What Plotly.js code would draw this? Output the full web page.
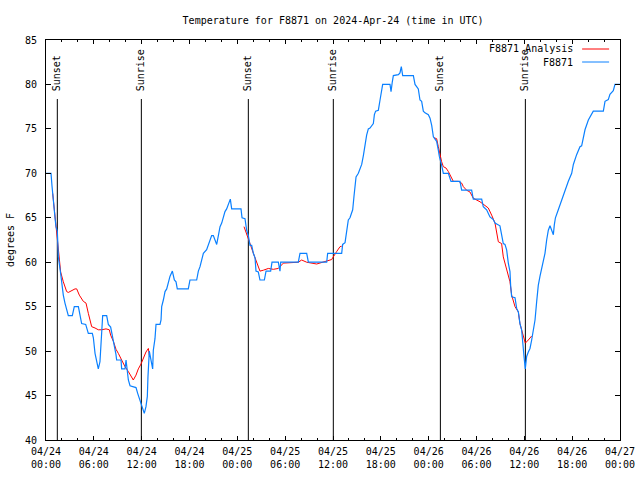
<!DOCTYPE html>
<html>
<head>
<meta charset="utf-8">
<script src="https://cdn.plot.ly/plotly-3.0.1.min.js"></script>
<style>html,body{margin:0;padding:0;background:#fff;}#chart{width:640px;height:480px;}</style>
</head>
<body>
<div id="chart"></div>
<script>
// Hours since 2024-04-24 00:00 UTC
var obsHours = [0,0.63,0.75,0.84,0.92,1.13,1.25,1.42,1.55,1.84,1.97,2.17,2.38,2.59,2.80,3.30,3.55,4.06,4.26,4.47,4.98,5.31,5.81,5.94,6.15,6.36,6.56,6.77,6.90,7.02,7.11,7.61,7.82,8.11,8.32,8.53,8.78,8.86,9.41,9.49,9.91,10.04,10.20,10.33,10.54,11.29,11.50,11.79,12.00,12.21,12.33,12.54,12.71,12.79,12.88,12.96,13.04,13.17,13.30,13.38,13.46,13.67,13.80,14.30,14.43,14.51,14.72,14.93,15.14,15.35,15.55,15.85,16.10,16.31,16.47,17.85,18.06,18.90,19.11,19.32,19.53,19.74,20.15,20.36,20.78,20.99,21.20,21.41,21.62,21.83,22.04,22.24,22.45,22.66,22.87,23.12,23.29,24.46,24.59,24.96,25.17,25.38,25.59,25.80,26.01,26.22,26.34,26.63,26.84,27.39,27.60,28.18,28.35,29.14,29.35,29.44,31.65,31.86,32.70,32.91,35.21,35.33,37.09,37.21,37.51,37.71,37.92,38.13,38.47,38.63,38.89,39.18,39.39,39.60,39.81,40.01,40.22,40.43,40.64,41.06,41.19,41.35,41.69,41.90,42.10,42.23,43.15,43.28,43.44,43.57,44.20,44.40,44.57,44.74,46.08,46.29,46.70,46.91,47.12,47.33,47.54,47.96,48.17,48.38,48.59,48.80,49.00,49.21,49.34,49.63,49.84,50.47,50.59,50.80,51.93,52.14,53.39,53.60,54.65,54.85,55.27,55.69,56.11,56.32,56.94,57.15,57.36,57.57,57.78,57.99,58.20,58.28,58.41,58.83,59.04,59.25,59.45,59.66,59.79,59.96,60.12,60.29,60.50,60.71,60.92,61.13,61.34,61.55,61.75,61.96,62.17,62.38,62.59,62.80,63.01,63.22,63.43,63.64,63.76,63.90,64.26,64.68,65.10,65.52,65.94,66.15,66.56,66.98,67.19,67.40,67.61,68.03,68.44,68.65,69.91,70.12,70.53,70.74,71.16,71.37,72.0];
var obsTemps = [70,70,68.6,68,67,65,64,63.5,60.6,58.7,57.6,56.3,55.4,54.6,54,54,55,55,54,53.1,53,52,52,51.5,49.75,48.6,48,48.8,51,53.5,54,54,53,52.7,51.8,50.9,49.6,49,49,48,48,49,48,46.75,46.1,45.9,45.25,44.5,43.9,43.4,43,43.75,44.9,47.1,48.25,50,49.6,49,48.25,48,50.1,51.4,53,53,53.5,55,55.75,56.7,57,57.8,58.4,59,58,57.8,57,57,58,58,59,59.5,60.4,61,61.4,62,63,63,62.5,62,63,64,64.4,65,65.7,66,66.6,67.1,66,66,65,64.9,63.6,63,61.9,61.9,61,60.5,59,58.9,58,58,59,59,60,60,59,60,60,61,61,60,60,61,61,62,62.2,63.4,64.75,65,65.9,67.4,69.6,70,70.6,71,72,73.4,74.3,75,75.1,75.6,76.6,77,77.1,78.25,79.5,80,80,79.2,80.3,81,81.1,81.3,82,81,81,80,79.5,78.25,78.1,77,76.8,76.6,76.2,75.4,74.1,73.9,73.6,72.6,71.9,70.9,70,70,69.6,69.1,69.1,68.1,68.1,67.1,67.1,66.25,65.9,65.1,64.8,64.4,64.1,63.1,62.1,62.0,61.4,59.9,58.95,57.4,56.1,56.0,54.8,54.4,53.1,52.4,50.5,49.4,48,49.4,49.9,50.3,51.25,52.4,53.5,55.6,57.4,58.4,59.3,60.25,61,62.5,63.6,64.1,63.6,63.1,64.2,65.0,65.9,67,68.1,69.1,70,71,72.1,73,73.1,74.1,74.9,76,76.75,77,77,78.1,78.3,78.9,79.3,80,80];

var anaHours = [0.84,1.00,1.25,1.46,1.59,1.84,2.17,2.59,2.80,3.22,3.64,3.85,4.18,4.68,5.02,5.31,5.52,5.73,6.15,6.56,6.98,7.53,7.94,8.11,8.45,8.78,9.07,9.49,9.91,10.33,10.62,10.95,11.29,11.58,11.92,12.21,12.54,12.84,12.96,null,24.84,25.17,25.59,26.01,26.43,26.84,27.26,27.89,28.52,29.14,29.77,31.65,32.07,32.70,33.95,35.00,35.83,36.46,36.88,37.09,null,48.67,49.00,49.21,49.42,49.63,49.84,50.17,50.47,50.67,51.09,51.72,52.14,52.35,52.76,53.18,53.60,54.44,55.06,55.48,55.90,56.32,56.74,57.15,57.36,57.78,57.99,58.20,58.41,58.83,59.25,59.45,59.66,59.87,60.12,60.50,60.92];
var anaTemps = [67.75,66.25,64,62.1,60.6,58.9,57.8,56.7,56.6,56.8,57,57,56.3,55.6,55.4,54.25,53.5,52.75,52.6,52.4,52.4,52.5,52.4,51.8,51.1,50.2,49.75,49,48.25,47.7,47.2,46.75,47.3,48,48.55,49.2,49.9,50.3,49.5,null,64,63.25,62.1,61,59.9,59,59.1,59.3,59.2,59.3,59.9,60,60.25,60,59.8,60.1,60.3,61.2,61.75,61.8,null,74,73.9,73,72.1,71.3,70.75,70.6,70.2,69.8,69.1,69.1,68.9,68.5,68.1,67.9,67.2,66.8,66.4,66.1,65.3,64.4,62.3,62.1,60.6,59.1,58.4,57.8,56.3,55,54.4,53.1,52.4,51.7,50.9,51.25,51.7];

var sunHours = [1.42, 11.96, 25.38, 36.04, 49.47, 60.13];
var sunLabels = ['Sunset','Sunrise','Sunset','Sunrise','Sunset','Sunrise'];

var tickHours = [0,6,12,18,24,30,36,42,48,54,60,66,72];
var tickLabels = ['04/24<br>00:00','04/24<br>06:00','04/24<br>12:00','04/24<br>18:00','04/25<br>00:00','04/25<br>06:00','04/25<br>12:00','04/25<br>18:00','04/26<br>00:00','04/26<br>06:00','04/26<br>12:00','04/26<br>18:00','04/27<br>00:00'];

var seriesNames = ['F8871 Analysis', 'F8871'];
var seriesColors = ['#ff0000', '#0a80ff'];

var FONT = {family: 'DejaVu Sans Mono, Liberation Mono, monospace', size: 10, color: '#000'};

var traces = [
  {x: anaHours, y: anaTemps, mode: 'lines', name: seriesNames[0], connectgaps: false,
   line: {color: seriesColors[0], width: 1}, hoverinfo: 'skip'},
  {x: obsHours, y: obsTemps, mode: 'lines', name: seriesNames[1],
   line: {color: seriesColors[1], width: 1.2}, hoverinfo: 'skip'}
];

var shapes = [];
var annotations = [];
sunHours.forEach(function (h, i) {
  shapes.push({type: 'line', xref: 'x', yref: 'paper', x0: h, x1: h, y0: 0, y1: 0.8525,
    line: {color: '#000', width: 1}, layer: 'below'});
  annotations.push({xref: 'x', yref: 'paper', x: h, y: 0.8675, text: sunLabels[i],
    textangle: -90, xanchor: 'center', yanchor: 'bottom', showarrow: false, font: FONT});
});
// manual legend (text left of sample line)
var legY = [0.9775, 0.945];
seriesNames.forEach(function (n, i) {
  annotations.push({xref: 'paper', yref: 'paper', x: 0.9216, y: legY[i], text: n,
    xanchor: 'right', yanchor: 'middle', showarrow: false, font: FONT});
  shapes.push({type: 'line', xref: 'paper', yref: 'paper', x0: 0.934, x1: 0.981, y0: legY[i], y1: legY[i],
    line: {color: seriesColors[i], width: 1}});
});

var layout = {
  width: 640, height: 480,
  margin: {l: 46, r: 20, t: 40, b: 40, pad: 0},
  paper_bgcolor: '#fff', plot_bgcolor: '#fff',
  font: FONT,
  showlegend: false,
  title: {text: 'Temperature for F8871 on 2024-Apr-24 (time in UTC)', font: FONT,
    x: 0.5205, xanchor: 'center', y: 0.958, yanchor: 'middle', yref: 'container'},
  xaxis: {range: [0, 72], tickmode: 'array', tickvals: tickHours, ticktext: tickLabels,
    ticks: 'inside', ticklen: 4, tickcolor: '#000', tickwidth: 1,
    minor: {dtick: 2, tick0: 0, ticks: 'inside', ticklen: 2, tickcolor: '#000'},
    showline: true, linecolor: '#000', linewidth: 1, mirror: 'ticks',
    showgrid: false, zeroline: false, tickfont: FONT, ticklabelstandoff: 2},
  yaxis: {range: [40, 85], tickmode: 'linear', tick0: 40, dtick: 5,
    ticks: 'inside', ticklen: 5, tickcolor: '#000',
    showline: true, linecolor: '#000', linewidth: 1, mirror: 'ticks',
    showgrid: false, zeroline: false, tickfont: FONT, ticklabelstandoff: 6,
    title: {text: 'degrees F', font: FONT, standoff: 8}},
  shapes: shapes,
  annotations: annotations
};

Plotly.newPlot('chart', traces, layout, {staticPlot: true, displayModeBar: false});
</script>
</body>
</html>
